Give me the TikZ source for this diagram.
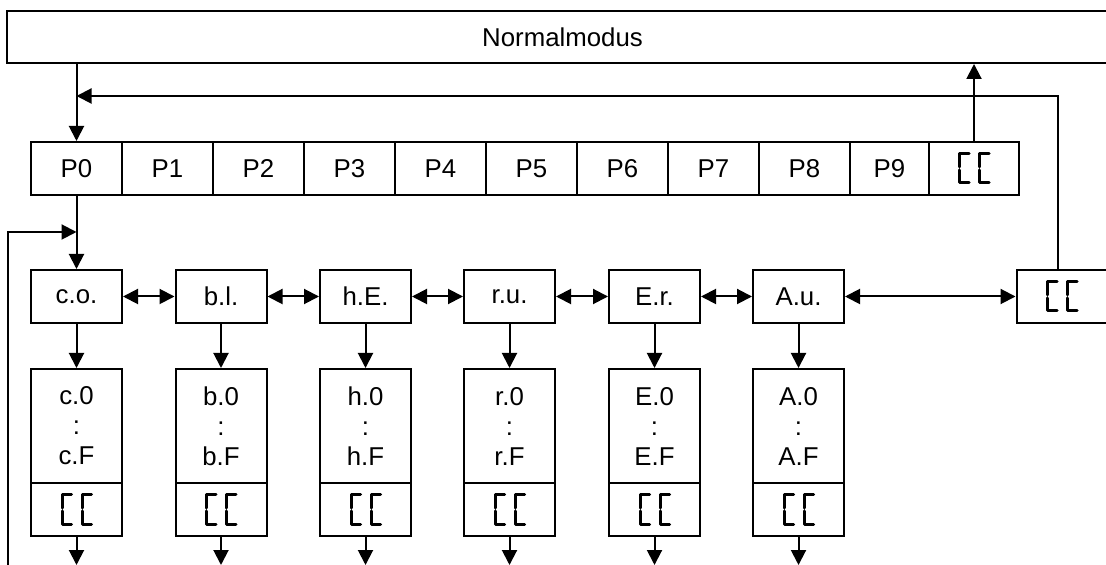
\documentclass[tikz,border=0pt]{standalone}
\usepackage{fontspec}
\setmainfont{Liberation Sans}
\usetikzlibrary{arrows.meta}

\begin{document}
\begin{tikzpicture}[
	x=0.5pt, y=-0.5pt,
	font=\fontsize{12.9}{15}\selectfont,
	cell/.style={
		rectangle,
		draw=black,
		line width=1pt,
		align=center,
		inner sep=0pt,
		minimum height=26.5pt,
		minimum width=45.5pt
	},
	listbox/.style={
		rectangle,
		draw=black,
		line width=1pt,
		align=center,
		inner sep=0pt,
		minimum height=57pt,
		minimum width=45.5pt
	},
	link/.style={line width=1pt, -{Triangle[length=7.5pt, width=7.5pt]}},
	both/.style={line width=1pt, {Triangle[length=7.5pt, width=7.5pt]}-{Triangle[length=7.5pt, width=7.5pt]}},
	segcc/.pic={
		\foreach \xa/\xb in {-14.5/-5, 5.5/15}
			\draw[line width=1.5pt, line cap=round, line join=round]
				(\xb,-14.5) -- (\xa,-14.5) -- (\xa,-1.5)
				(\xa,1.5) -- (\xa,14.5) -- (\xb,14.5);
	},
]
\useasboundingbox (0,0) rectangle (1106,565);

\node[cell, minimum width=555.5pt, minimum height=26pt] (normal) at (562.5, 37) {Normalmodus};

% parameter row
\node[cell] (p0) at (76.5, 168.5) {P0};
\node[cell] (p1) at (167.5, 168.5) {P1};
\node[cell] (p2) at (258.5, 168.5) {P2};
\node[cell] (p3) at (349.5, 168.5) {P3};
\node[cell] (p4) at (440.5, 168.5) {P4};
\node[cell] (p5) at (531.5, 168.5) {P5};
\node[cell] (p6) at (622.5, 168.5) {P6};
\node[cell] (p7) at (713.5, 168.5) {P7};
\node[cell] (p8) at (804.5, 168.5) {P8};
\node[cell, minimum width=39.5pt] (p9) at (889.5, 168.5) {P9};
\node[cell, minimum width=45pt] (pcc) at (974, 168.5) {};
\pic at (pcc) {segcc};

% menu row
\node[cell] (co) at (76.5, 296.5) {c.o.};
\node[cell] (bl) at (221, 296.5) {b.l.};
\node[cell] (hE) at (365.5, 296.5) {h.E.};
\node[cell] (ru) at (509.5, 296.5) {r.u.};
\node[cell] (Er) at (654.5, 296.5) {E.r.};
\node[cell] (Au) at (798.5, 296.5) {A.u.};
\node[cell] (ccr) at (1062, 296.5) {};
\pic at (ccr) {segcc};

% value lists
\node[listbox] (c0) at (76.5, 426) {c.0 \\ : \\ c.F};
\node[listbox] (b0) at (221, 426) {b.0 \\ : \\ b.F};
\node[listbox] (h0) at (365.5, 426) {h.0 \\ : \\ h.F};
\node[listbox] (r0) at (509.5, 426) {r.0 \\ : \\ r.F};
\node[listbox] (E0) at (654.5, 426) {E.0 \\ : \\ E.F};
\node[listbox] (A0) at (798.5, 426) {A.0 \\ : \\ A.F};

\node[cell] (ccc) at (76.5, 509.5) {};
\node[cell] (ccb) at (221, 509.5) {};
\node[cell] (cch) at (365.5, 509.5) {};
\node[cell] (ccr0) at (509.5, 509.5) {};
\node[cell] (ccE) at (654.5, 509.5) {};
\node[cell] (ccA) at (798.5, 509.5) {};
\pic at (ccc) {segcc};
\pic at (ccb) {segcc};
\pic at (cch) {segcc};
\pic at (ccr0) {segcc};
\pic at (ccE) {segcc};
\pic at (ccA) {segcc};

\coordinate (turn) at (1058, 96);
\coordinate (loopstart) at (8, 565);
\coordinate (loopturn) at (8, 232);

\draw[link] (normal.south -| p0.north) -- (p0.north);
\draw[link] (pcc.north) -- (normal.south -| pcc.north);
\draw[link] (ccr.north -| turn) -- (turn) -- (turn -| p0);
\draw[link] (p0.south) -- (co.north);
\draw[link] (loopstart) -- (loopturn) -- (loopturn -| p0);

\draw[both] (co) -- (bl);
\draw[both] (bl) -- (hE);
\draw[both] (hE) -- (ru);
\draw[both] (ru) -- (Er);
\draw[both] (Er) -- (Au);
\draw[both] (Au) -- (ccr);

\draw[link] (co) -- (c0);
\draw[link] (bl) -- (b0);
\draw[link] (hE) -- (h0);
\draw[link] (ru) -- (r0);
\draw[link] (Er) -- (E0);
\draw[link] (Au) -- (A0);

\draw[link] (ccc.south) -- (ccc.south |- loopstart);
\draw[link] (ccb.south) -- (ccb.south |- loopstart);
\draw[link] (cch.south) -- (cch.south |- loopstart);
\draw[link] (ccr0.south) -- (ccr0.south |- loopstart);
\draw[link] (ccE.south) -- (ccE.south |- loopstart);
\draw[link] (ccA.south) -- (ccA.south |- loopstart);

\end{tikzpicture}
\end{document}
